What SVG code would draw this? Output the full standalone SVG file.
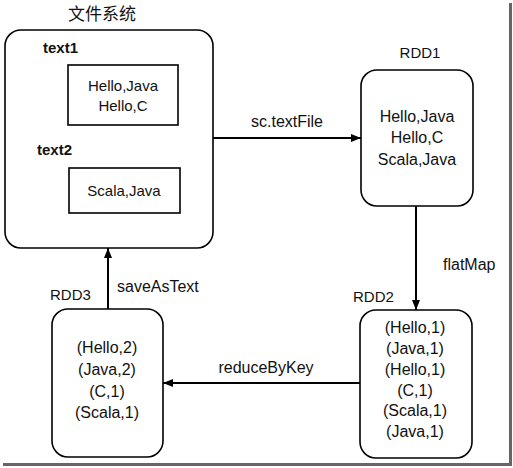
<svg xmlns="http://www.w3.org/2000/svg" width="513" height="468" viewBox="0 0 513 468">
<defs>
<marker id="arr" viewBox="0 0 10 8" refX="10" refY="4" markerWidth="10" markerHeight="8" markerUnits="userSpaceOnUse" orient="auto">
<path d="M0,0 L10,4 L0,8 z" fill="#000"/>
</marker>
</defs>
<style>
text{font-family:"Liberation Sans",Arial,sans-serif;font-size:15px;fill:#111}
.c{text-anchor:middle}
.b{font-weight:bold}
.lab{font-size:16px}
.big{font-size:16px}
.cjk{font-family:"Noto Sans CJK SC","Liberation Sans",sans-serif;font-size:17px}
.box{fill:#fff;stroke:#000;stroke-width:1.6}
.edge{fill:none;stroke:#000;stroke-width:2;marker-end:url(#arr)}
</style>
<rect width="513" height="468" fill="#fff"/>
<path d="M510.5,3 V464.5 H3" fill="none" stroke="#666" stroke-width="3"/>

<g id="fs">
<text class="cjk c" x="102" y="20">文件系统</text>
<rect class="box" x="5" y="30" width="208" height="218" rx="16"/>
<text class="b" x="43" y="53">text1</text>
<rect class="box" x="68" y="65" width="110" height="60" rx="0"/>
<text class="c" x="123" y="91">Hello,Java</text>
<text class="c" x="123" y="111">Hello,C</text>
<text class="b" x="37" y="155">text2</text>
<rect class="box" x="69" y="168" width="111" height="45" rx="0"/>
<text class="c" x="124" y="196">Scala,Java</text>
</g>

<g id="rdd1">
<text class="c" x="420" y="58">RDD1</text>
<rect class="box" x="361" y="70" width="112" height="136" rx="16"/>
<text class="c big" x="417" y="122">Hello,Java</text>
<text class="c big" x="417" y="143">Hello,C</text>
<text class="c big" x="417" y="165">Scala,Java</text>
</g>

<g id="rdd2">
<text x="353" y="302">RDD2</text>
<rect class="box" x="360" y="310" width="112" height="148" rx="16"/>
<text class="c big" x="415" y="333">(Hello,1)</text>
<text class="c big" x="415" y="354">(Java,1)</text>
<text class="c big" x="415" y="375">(Hello,1)</text>
<text class="c big" x="415" y="396">(C,1)</text>
<text class="c big" x="415" y="416">(Scala,1)</text>
<text class="c big" x="415" y="437">(Java,1)</text>
</g>

<g id="rdd3">
<text x="50" y="300">RDD3</text>
<rect class="box" x="52" y="309" width="111" height="148" rx="16"/>
<text class="c big" x="107" y="353">(Hello,2)</text>
<text class="c big" x="107" y="375">(Java,2)</text>
<text class="c big" x="107" y="397">(C,1)</text>
<text class="c big" x="107" y="418">(Scala,1)</text>
</g>

<g id="connectors">
<path class="edge" d="M213,138 H361"/>
<text class="lab c" x="287" y="127">sc.textFile</text>
<path class="edge" d="M416,206 V310"/>
<text class="lab" x="443" y="270">flatMap</text>
<path class="edge" d="M360,383 H163"/>
<text class="lab c" x="266" y="373">reduceByKey</text>
<path class="edge" d="M108,309 V248"/>
<text class="lab" x="117" y="292">saveAsText</text>
</g>
</svg>
